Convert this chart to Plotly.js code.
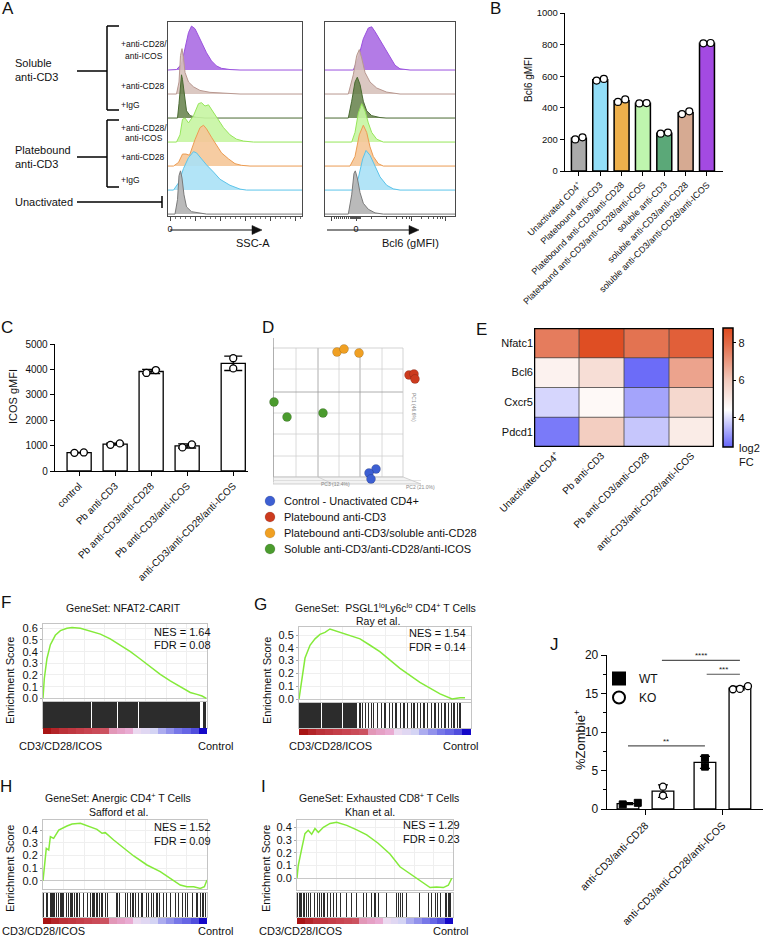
<!DOCTYPE html>
<html><head><meta charset="utf-8">
<script src="https://cdn.plot.ly/plotly-3.0.1.min.js"></script>
<style>html,body{margin:0;padding:0;background:#fff;}#fig{width:763px;height:938px;}</style>
</head><body><div id="fig"></div>
<script>
// ================= DATA =================
// Panel A – flow histograms, pairs of [channel value, normalized count]
const histRows = ['Soluble anti-CD3 +anti-CD28/anti-ICOS','Soluble anti-CD3 +anti-CD28','Soluble anti-CD3 +IgG',
  'Platebound anti-CD3 +anti-CD28/anti-ICOS','Platebound anti-CD3 +anti-CD28','Platebound anti-CD3 +IgG','Unactivated'];
// SSC-A (x1000)
const sscSolCD28ICOS = [[-4,0],[0,0],[13,0.02],[23,0.24],[30,0.86],[37,1.56],[43,1.83],[50,1.72],[57,1.42],[63,1.14],[73,0.72],[83,0.38],[93,0.17],[103,0.07],[120,0.02],[140,0],[264,0]];
const sscSolCD28 = [[-4,0],[13,0],[18,0.5],[21,1.6],[24,1.89],[27,1.5],[30,0.9],[37,0.5],[47,0.3],[60,0.15],[80,0.07],[113,0.03],[140,0],[264,0]];
const sscSolIgG = [[-4,0],[15,0],[18,0.6],[21,1.5],[23,1.8],[25,1.6],[29,0.8],[33,0.3],[40,0.1],[53,0.03],[70,0],[264,0]];
const sscPbCD28ICOS = [[-4,0],[13,0],[20,0.3],[25,0.95],[30,1.0],[37,0.8],[47,1.1],[57,1.6],[63,1.64],[70,1.5],[77,1.55],[83,1.35],[93,1.05],[107,0.6],[120,0.3],[133,0.12],[147,0.04],[167,0],[264,0]];
const sscPbCD28 = [[-4,0],[7,0],[17,0.15],[25,0.5],[32,0.5],[39,0.45],[50,1.1],[60,1.6],[67,1.7],[73,1.55],[83,1.2],[93,0.85],[103,0.55],[117,0.3],[130,0.1],[143,0.03],[160,0],[264,0]];
const sscPbIgG = [[-4,0],[7,0],[17,0.3],[27,0.9],[37,1.35],[47,1.6],[53,1.55],[63,1.3],[73,1.05],[87,0.75],[100,0.45],[120,0.2],[140,0.04],[153,0],[264,0]];
const sscUnact = [[-4,0],[10,0],[15,0.6],[18,1.6],[21,1.8],[24,1.5],[28,0.8],[33,0.3],[43,0.1],[60,0.03],[73,0],[264,0]];
// Bcl6 (gMFI)
const bclSolCD28ICOS = [[-310,0],[-27,0],[23,0.5],[73,1.3],[123,1.75],[157,1.8],[190,1.6],[240,1.25],[290,0.85],[340,0.5],[390,0.2],[440,0.05],[540,0],[990,0]];
const bclSolCD28 = [[-310,0],[-77,0],[-27,0.8],[7,1.6],[33,1.85],[57,1.5],[90,0.9],[140,0.5],[207,0.25],[307,0.08],[440,0],[990,0]];
const bclSolIgG = [[-310,0],[-77,0],[-43,0.7],[-10,1.5],[13,1.7],[40,1.4],[73,0.7],[107,0.3],[157,0.1],[240,0.02],[300,0],[990,0]];
const bclPbCD28ICOS = [[-310,0],[-43,0],[-10,0.4],[23,1.2],[57,1.6],[90,1.3],[123,0.8],[157,0.4],[207,0.12],[273,0],[990,0]];
const bclPbCD28 = [[-310,0],[-60,0],[-10,0.4],[33,1.3],[73,1.7],[107,1.4],[140,0.8],[173,0.4],[223,0.1],[273,0],[990,0]];
const bclPbIgG = [[-310,0],[-27,0],[23,0.5],[67,1.3],[100,1.65],[140,1.45],[190,1.0],[240,0.55],[307,0.2],[373,0.05],[440,0],[990,0]];
const bclUnact = [[-310,0],[-77,0],[-43,0.8],[-20,1.7],[-7,1.8],[13,1.5],[40,0.9],[73,0.45],[123,0.2],[190,0.05],[273,0],[990,0]];

// Panel B – Bcl6 gMFI
const bLabels = ['Unactivated CD4<sup>+</sup>','Platebound anti-CD3','Platebound anti-CD3/anti-CD28','Platebound anti-CD3/anti-CD28/anti-ICOS','soluble anti-CD3','soluble anti-CD3/anti-CD28','soluble anti-CD3/anti-CD28/anti-ICOS'];
const bRep1 = [200,572,437,428,236,360,808];
const bRep2 = [213,583,453,430,243,378,810];

// Panel C – ICOS gMFI
const cLabels = ['control','Pb anti-CD3','Pb anti-CD3/anti-CD28','Pb anti-CD3/anti-ICOS','anti-CD3/anti-CD28/anti-ICOS'];
const cRep1 = [715,1030,3860,930,4040];
const cRep2 = [730,1085,3975,1045,4440];

// Panel D – PCA (projected scores)
const pcaGroups = ['Control - Unactivated CD4+','Platebound anti-CD3','Platebound anti-CD3/soluble anti-CD28','Soluble anti-CD3/anti-CD28/anti-ICOS'];
const pcaCtrlH = [103,96,98],  pcaCtrlV = [13,9,3];
const pcaPbH = [136,141,142],  pcaPbV = [107,108,103];
const pcaPbSolH = [64,71,86],  pcaPbSolV = [130,133,129];
const pcaSolH = [1,14,50],     pcaSolV = [80,65,69];

// Panel E – heatmap log2 FC
const eGenes = ['Nfatc1','Bcl6','Cxcr5','Pdcd1'];
const eConds = ['Unactivated CD4<sup>+</sup>','Pb anti-CD3','Pb anti-CD3/anti-CD28','anti-CD3/anti-CD28/anti-ICOS'];
const eNfatc1 = [7.6,8.7,7.8,8.25];
const eBcl6 = [4.8,5.4,2.55,6.8];
const eCxcr5 = [3.9,4.6,3.26,5.6];
const ePdcd1 = [2.73,5.9,3.7,5.0];

// Panels F–I – GSEA (rank position %, enrichment score)
const gseaRankMetric = [1.0,0.9,0.82,0.78,0.74,0.7,0.66,0.62,0.25,0.2,0.15,-0.05,-0.12,-0.2,-0.35,-0.45,-0.55,-0.62,-0.72,-1.0];
const esF_rank = [0,0.8,2.4,4.5,7.5,10.6,14.6,17.7,22.8,28.9,35,41,47.2,53.3,59.3,65.4,71.5,77.6,83.7,89.8,93.9,97,99.6];
const esF = [0,0.17,0.34,0.46,0.54,0.58,0.60,0.606,0.60,0.577,0.55,0.51,0.457,0.40,0.337,0.27,0.206,0.15,0.097,0.05,0.034,0.02,0.0];
const hitsF = [[0,29.5],[29.9,45.3],[45.7,58.1],[58.5,75.4],[75.8,87.6],[88,95.8],[97.6,99.3]];
const esG_rank = [0,1.6,3.5,6.4,9.3,12.2,15.1,18,21.9,27.7,35.5,41.3,47,58.7,70.3,82,89,93.6,96.5];
const esG = [0,0.16,0.32,0.42,0.47,0.505,0.52,0.547,0.53,0.51,0.47,0.42,0.37,0.24,0.13,0.04,0,0.01,0.01];
const hitsG = [[0,12.8],[13.3,17.8],[18.3,24.8],[25.3,34],35.5,37,38.5,40.5,42,43.5,45.5,48.1,50,52.5,54.5,56.4,59.1,61,63,65.5,66.9,68.8,70.7,72.7,74.6,77.1,79.1,81,83,84.9,86.8,88.8,90.1,92,93.6];
const esH_rank = [0,0.8,2,3.5,4.5,6.5,9.6,14.6,17.7,22.8,27.8,32.9,36,38,43.1,49.2,55.3,63.4,71.5,77.6,83.7,87.8,91.9,95.9,98.4,100];
const esH = [0,0.11,0.255,0.242,0.347,0.334,0.40,0.432,0.447,0.453,0.432,0.405,0.374,0.379,0.321,0.255,0.195,0.124,0.071,0.018,-0.034,-0.047,-0.047,-0.061,-0.047,0.005];
const hitsH = [0.4,2,3,4.5,5.5,6.5,7.1,8.1,9.6,10.6,11.6,12.6,14.2,15.7,16.7,17.7,19.1,20.7,22.2,24.8,27.2,28.9,30.5,31.5,32.9,34.6,36,38,39.4,45.1,46.7,50.2,51.6,53.3,54.9,56.3,58.3,60.4,63,64.4,65.9,67.5,69.5,71.1,73.6,75.2,77.6,80.7,82.7,84.8,86.8,88.2,90.9,93.9,95.9,97.6,99];
const esI_rank = [0,0.8,3,5.1,7.2,9.4,11.5,13.7,16.9,21.2,25.4,31.9,38.3,44.7,52,59.6,66,72.4,78.8,85.3,89.5,93.8,97,99.2];
const esI = [0,0.10,0.23,0.35,0.376,0.345,0.39,0.36,0.40,0.43,0.44,0.415,0.38,0.34,0.275,0.19,0.09,0.037,-0.016,-0.073,-0.068,-0.073,-0.055,0];
const hitsI = [0.4,1.9,3,4.5,6.2,7.3,8.8,11.5,13,14.7,15.8,16.9,17.9,19.4,21.2,23.3,25.4,27.6,31.9,35.1,38.3,42.5,44.7,47.9,50,52.1,57.5,63.9,64.9,66.5,67.8,70.3,78.8,84.2,86.3,88.5,89.9,91.7,94.9,96,97,98.1];

// Panel J – %Zombie+
const jGroups = ['anti-CD3/anti-CD28','anti-CD3/anti-CD28/anti-ICOS'];
const jWT_g1 = [0.6,0.8];
const jKO_g1 = [1.75,2.9];
const jWT_g2 = [5.5,6.6];
const jKO_g2 = [15.55,15.6,15.95];

// ================= HELPERS / STYLE =================
const FONT = '"Liberation Sans", Arial, sans-serif';
const W = 763, H = 938;
const PX = v => v / W, PY = v => 1 - v / H;
const XD = (a, b) => [a / W, b / W], YD = (t, b) => [1 - b / H, 1 - t / H];
const traces = [], annotations = [], shapes = [];
const layout = {width: W, height: H, margin: {l:0, r:0, t:0, b:0}, paper_bgcolor: '#fff', plot_bgcolor: 'rgba(0,0,0,0)',
  font: {family: FONT, size: 11, color: '#111'}, showlegend: true, annotations, shapes, bargap: 0};
const mean = a => a.reduce((s, v) => s + v, 0) / a.length;
const sd = a => { const m = mean(a); return Math.sqrt(a.reduce((s, v) => s + (v - m) * (v - m), 0) / (a.length - 1)); };
function baseAxis(o) { return Object.assign({showgrid:false, zeroline:false, showline:false, ticks:'', showticklabels:false, fixedrange:true, tickfont:{family:FONT, size:10, color:'#111'}}, o); }
function setAxes(n, xo, yo) {
  const s = n === 1 ? '' : String(n);
  layout['xaxis' + s] = baseAxis(Object.assign({anchor: 'y' + s}, xo));
  layout['yaxis' + s] = baseAxis(Object.assign({anchor: 'x' + s}, yo));
}
const xr = n => n === 1 ? 'x' : 'x' + n, yr = n => n === 1 ? 'y' : 'y' + n;
function T(text, x, y, o = {}) {
  annotations.push({text, x: PX(x), y: PY(y), xref:'paper', yref:'paper', showarrow:false, xanchor:o.xa||'center', yanchor:o.ya||'middle',
    textangle:o.ang||0, align:o.align||'center', font:{family:FONT, size:o.s||11, color:o.c||'#111'}});
}
function L(x0, y0, x1, y1, o = {}) {
  shapes.push({type:'line', xref:'paper', yref:'paper', x0:PX(x0), y0:PY(y0), x1:PX(x1), y1:PY(y1), line:{color:o.c||'#000', width:o.w||1.5}});
}
function arrowRight(x0, x1, y) {
  L(x0, y, x1 - 8, y, {w:1.2, c:'#111'});
  shapes.push({type:'path', xref:'paper', yref:'paper', fillcolor:'#111', line:{color:'#111', width:0.5},
    path:`M${PX(x1)},${PY(y)} L${PX(x1 - 10)},${PY(y - 4.5)} L${PX(x1 - 10)},${PY(y + 4.5)} Z`});
}

// ================= PANEL A =================
const sscRows = [sscSolCD28ICOS, sscSolCD28, sscSolIgG, sscPbCD28ICOS, sscPbCD28, sscPbIgG, sscUnact];
const bclRows = [bclSolCD28ICOS, bclSolCD28, bclSolIgG, bclPbCD28ICOS, bclPbCD28, bclPbIgG, bclUnact];
const histFill = ['rgba(172,112,228,0.92)','rgba(214,192,186,0.88)','rgba(86,116,56,0.78)','rgba(198,245,162,0.9)','rgba(245,198,152,0.9)','rgba(170,225,246,0.9)','rgba(180,180,180,0.92)'];
const histLine = ['#9a52de','#b89890','#4a6a32','#96e65a','#ec9c52','#5cc4ea','#7a7a7a'];
setAxes(1, {domain:XD(168,302), range:[-4,264], showline:true, mirror:true, linecolor:'#4a4a4a', linewidth:1,
    ticks:'outside', ticklen:4, tickcolor:'#4a4a4a', tickvals:[0], ticktext:['0'],
    showticklabels:true, tickfont:{family:FONT, size:9, color:'#111'},
    minor:{ticks:'outside', ticklen:2, tickmode:'linear', tick0:0, dtick:10, tickcolor:'#777'}},
  {domain:YD(22,216), range:[-0.08,8.0], showline:true, mirror:true, linecolor:'#4a4a4a', linewidth:1});
setAxes(2, {domain:XD(325,455), range:[-310,990], showline:true, mirror:true, linecolor:'#4a4a4a', linewidth:1,
    ticks:'outside', ticklen:4, tickcolor:'#4a4a4a', tickvals:[0], ticktext:['0'],
    showticklabels:true, tickfont:{family:FONT, size:9, color:'#111'},
    minor:{ticks:'outside', ticklen:2, tickmode:'array', tickcolor:'#555',
      tickvals:[-220,-200,-180,-160,-140,-120,-100,-80,-60,-45,-35,-25,-15,-8,8,15,25,35,45,150,300,400,460,500,530,650,720,770,810,840,865]}},
  {domain:YD(22,216), range:[-0.08,8.0], showline:true, mirror:true, linecolor:'#4a4a4a', linewidth:1});
// longer (major) ticks without labels on overlay axes
layout.xaxis20 = baseAxis({overlaying:'x', anchor:'y', range:[-4,264], ticks:'outside', ticklen:4, tickcolor:'#4a4a4a', tickvals:[50,100,150,200,250]});
layout.xaxis21 = baseAxis({overlaying:'x2', anchor:'y2', range:[-310,990], ticks:'outside', ticklen:4, tickcolor:'#4a4a4a', tickvals:[-243,557,890]});
sscRows.forEach((d, i) => {
  const off = 6 - i;
  [[d, 1], [bclRows[i], 2]].forEach(([rows, n]) => {
    traces.push({type:'scatter', mode:'lines', name: histRows[i], x: rows.map(p => p[0]), y: rows.map(p => p[1] + off),
      fill:'toself', fillcolor: histFill[i], line:{color: histLine[i], width:1}, xaxis: xr(n), yaxis: yr(n), showlegend:false, hoverinfo:'skip'});
  });
});
// invisible anchors so the overlay tick axes are drawn
traces.push({type:'scatter', mode:'markers', x:[-4], y:[-0.08], xaxis:'x20', yaxis:'y', marker:{opacity:0}, showlegend:false, hoverinfo:'skip'});
traces.push({type:'scatter', mode:'markers', x:[-310], y:[-0.08], xaxis:'x21', yaxis:'y2', marker:{opacity:0}, showlegend:false, hoverinfo:'skip'});
T('A', 8, 9, {s:17});
T('Soluble', 13, 63, {xa:'left'}); T('anti-CD3', 13, 77, {xa:'left'});
T('Platebound', 13, 150, {xa:'left'}); T('anti-CD3', 13, 164, {xa:'left'});
T('Unactivated', 13, 202, {xa:'left'});
T('+anti-CD28/', 119, 44, {xa:'left', s:8.5}); T('anti-ICOS', 123, 56, {xa:'left', s:8.5});
T('+anti-CD28', 119, 86, {xa:'left', s:8.5}); T('+IgG', 119, 105, {xa:'left', s:8.5});
T('+anti-CD28/', 119, 128, {xa:'left', s:8.5}); T('anti-ICOS', 123, 138, {xa:'left', s:8.5});
T('+anti-CD28', 119, 157, {xa:'left', s:8.5}); T('+IgG', 119, 180, {xa:'left', s:8.5});
L(107,26,107,110); L(107,26,119,26); L(107,110,119,110); L(77,71,107,71);
L(107,120,107,187); L(107,120,119,120); L(107,187,119,187); L(77,157,107,157);
L(77,202,162,202); L(162,196,162,208);
arrowRight(170, 262, 230); T('SSC-A', 253, 243, {s:11});
arrowRight(327, 419, 230); T('Bcl6 (gMFI)', 410, 243, {s:11});

// ================= PANEL B =================
const bColors = ['#aaaaaa','#92def8','#edb04c','#bff5ae','#5ba878','#d6aa92','#a34ae2'];
setAxes(3, {domain:XD(565,723), range:[-0.65,6.75], showline:true, linecolor:'#000', linewidth:1.3, ticks:'outside', ticklen:4,
    tickcolor:'#000', tickvals:bLabels.map((_, i) => i), ticktext:bLabels, tickangle:-45, showticklabels:true, tickfont:{family:FONT, size:9, color:'#111'}},
  {domain:YD(13,171), range:[0,1000], dtick:200, showline:true, linecolor:'#000', linewidth:1.3, ticks:'outside', ticklen:4, tickcolor:'#000',
    showticklabels:true, tickfont:{family:FONT, size:9.5, color:'#111'}});
traces.push({type:'bar', x:bLabels.map((_, i) => i), y:bRep1.map((v, i) => (v + bRep2[i]) / 2), width:0.7,
  marker:{color:bColors, line:{color:'#000', width:1.5}}, xaxis:'x3', yaxis:'y3', showlegend:false, hoverinfo:'skip'});
traces.push({type:'scatter', mode:'markers', x:bLabels.flatMap((_, i) => [i - 0.17, i + 0.17]), y:bRep1.flatMap((v, i) => [v, bRep2[i]]),
  marker:{symbol:'circle', size:7, color:'#fff', line:{color:'#000', width:1.2}}, xaxis:'x3', yaxis:'y3', showlegend:false, cliponaxis:false, hoverinfo:'skip'});
T('B', 495, 9, {s:17});
T('Bcl6 gMFI', 528, 80, {ang:-90, s:10});

// ================= PANEL C =================
const cSlots = [0,1,2,3,4.28];
setAxes(4, {domain:XD(55,248), range:[-0.67,4.69], showline:true, linecolor:'#000', linewidth:1.3, ticks:'outside', ticklen:4,
    tickcolor:'#000', tickvals:cSlots, ticktext:cLabels, tickangle:-45, showticklabels:true, tickfont:{family:FONT, size:10, color:'#111'}},
  {domain:YD(344,471), range:[0,5000], dtick:1000, showline:true, linecolor:'#000', linewidth:1.3, ticks:'outside', ticklen:4, tickcolor:'#000',
    showticklabels:true, tickfont:{family:FONT, size:10, color:'#111'}});
traces.push({type:'bar', x:cSlots, y:cRep1.map((v, i) => mean([v, cRep2[i]])), width:0.67,
  error_y:{type:'data', array:cRep1.map((v, i) => sd([v, cRep2[i]])), visible:true, color:'#000', thickness:1.3, width:9},
  marker:{color:'#fff', line:{color:'#000', width:1.3}}, xaxis:'x4', yaxis:'y4', showlegend:false, hoverinfo:'skip'});
traces.push({type:'scatter', mode:'markers', x:cSlots.flatMap((s, i) => i === 4 ? [s, s] : [s - 0.13, s + 0.13]),
  y:cRep1.flatMap((v, i) => [v, cRep2[i]]),
  marker:{symbol:'circle', size:7, color:'#fff', line:{color:'#000', width:1.3}}, xaxis:'x4', yaxis:'y4', showlegend:false, cliponaxis:false, hoverinfo:'skip'});
T('C', 7, 328, {s:17});
T('ICOS gMFI', 13, 397, {ang:-90, s:11});

// ================= PANEL D =================
setAxes(5, {domain:XD(273,423), range:[0,150]}, {domain:YD(338,486), range:[-4,144]});
const gridV = [23,45,66,87,109], gridH = [26,48,69,90,113];
gridV.forEach(v => shapes.push({type:'line', xref:'x5', yref:'y5', x0:v, x1:v, y0:5, y1:134, layer:'below', line:{color:(v===45||v===87)?'#9a9a9a':'#d0d0d0', width:0.8}}));
gridH.forEach(v => shapes.push({type:'line', xref:'x5', yref:'y5', x0:0, x1:130, y0:v, y1:v, layer:'below', line:{color:v===90?'#9a9a9a':'#d0d0d0', width:0.8}}));
shapes.push({type:'rect', xref:'x5', yref:'y5', x0:0, x1:130, y0:5, y1:134, layer:'below', line:{color:'#c8c8c8', width:0.8}});
shapes.push({type:'line', xref:'x5', yref:'y5', x0:0, x1:0, y0:0, y1:144, layer:'below', line:{color:'#777', width:1}});
shapes.push({type:'path', xref:'x5', yref:'y5', path:'M0,5 L130,5 L148,-2 L0,-2 Z', layer:'below', fillcolor:'rgba(235,235,235,0.6)', line:{color:'#bdbdbd', width:0.7}});
shapes.push({type:'line', xref:'x5', yref:'y5', x0:0, x1:148, y0:1.5, y1:1.5, layer:'below', line:{color:'#d0d0d0', width:0.6}});
shapes.push({type:'line', xref:'x5', yref:'y5', x0:45, x1:60, y0:5, y1:-2, layer:'below', line:{color:'#bdbdbd', width:0.6}});
const pcaColors = ['#3d5fd2','#cc3b1e','#f0a023','#4b9b2e'];
[[pcaCtrlH, pcaCtrlV],[pcaPbH, pcaPbV],[pcaPbSolH, pcaPbSolV],[pcaSolH, pcaSolV]].forEach(([h, v], i) => {
  traces.push({type:'scatter', mode:'markers', name:pcaGroups[i], x:h, y:v, xaxis:'x5', yaxis:'y5', showlegend:false,
    marker:{size:9, color:pcaColors[i], line:{color:'rgba(0,0,0,0.25)', width:0.6}}, cliponaxis:false, hoverinfo:'skip'});
  // legend key (symbol + label)
  const ly = 501 + 16 * i;
  shapes.push({type:'circle', xref:'paper', yref:'paper', x0:PX(265), x1:PX(275), y0:PY(ly + 5), y1:PY(ly - 5),
    fillcolor:pcaColors[i], line:{color:'rgba(0,0,0,0.2)', width:0.6}});
  T(pcaGroups[i], 282, ly, {xa:'left', s:11});
});
T('D', 268, 328, {s:17});
T('PC3 (12.4%)', 335, 484, {s:5, c:'#888'});
T('PC2 (21.0%)', 420, 487, {s:5, c:'#888'});
T('PC1 (46.6%)', 414, 407, {s:5, c:'#888', ang:90});

// ================= PANEL E =================
setAxes(6, {domain:XD(534,714), range:[-0.5,3.5], tickvals:eConds.map((_, i) => i), ticktext:eConds, tickangle:-45, showticklabels:true,
    tickfont:{family:FONT, size:10, color:'#111'}},
  {domain:YD(328,447), range:[3.5,-0.5], tickvals:eGenes.map((_, i) => i), ticktext:eGenes, showticklabels:true,
    tickfont:{family:FONT, size:11, color:'#111'}});
traces.push({type:'heatmap', z:[eNfatc1, eBcl6, eCxcr5, ePdcd1], x:eConds.map((_, i) => i), y:eGenes.map((_, i) => i),
  zmin:2.45, zmax:8.8, xaxis:'x6', yaxis:'y6', hoverinfo:'skip',
  colorscale:[[0,'#6464f8'],[0.31,'#ffffff'],[0.56,'#f2cabd'],[0.87,'#e26a47'],[1,'#df4a1e']],
  colorbar:{x:PX(723), xanchor:'left', y:PY(447), yanchor:'bottom', len:119/H, lenmode:'fraction', thickness:10, thicknessmode:'pixels',
    xpad:0, ypad:0, outlinecolor:'#000', outlinewidth:1.5, tickvals:[4,6,8], ticks:'outside', ticklen:3, tickcolor:'#000',
    tickfont:{family:FONT, size:11, color:'#111'}}});
[0.5,1.5,2.5].forEach(v => {
  shapes.push({type:'line', xref:'x6', yref:'y6', x0:v, x1:v, y0:-0.5, y1:3.5, line:{color:'#444', width:0.8}});
  shapes.push({type:'line', xref:'x6', yref:'y6', x0:-0.5, x1:3.5, y0:v, y1:v, line:{color:'#444', width:0.8}});
});
shapes.push({type:'rect', xref:'x6', yref:'y6', x0:-0.5, x1:3.5, y0:-0.5, y1:3.5, line:{color:'#000', width:2.5}});
T('E', 481, 329, {s:17});
T('log2<br>FC', 737, 455, {xa:'left', align:'left', s:11});

// ================= PANELS F–I (GSEA) =================
const gseaScale = [[0,'#1408c8'],[0.2,'#6a6ae6'],[0.4,'#d4d4f4'],[0.5,'#f2dcee'],[0.58,'#e8a8d0'],[0.7,'#d87a8c'],[0.85,'#c84450'],[1,'#a81414']];
function gsea(n, g, rank, es, hits) {
  setAxes(n, {domain:XD(g.x[0], g.x[1]), range:[0,100], showgrid:true, gridcolor:'#efefef', dtick:12.5, showline:true, mirror:true, linecolor:'#c4c4c4', linewidth:1},
    {domain:YD(g.es[0], g.es[1]), range:g.esR, dtick:0.1, tick0:0, tickformat:'.1f', showticklabels:true, ticks:'outside', ticklen:2, tickcolor:'#aaa',
     showgrid:true, gridcolor:'#efefef', zeroline:true, zerolinecolor:'#c8c8c8', zerolinewidth:1, showline:true, mirror:true, linecolor:'#c4c4c4', linewidth:1,
     tickfont:{family:FONT, size:11, color:'#111'}});
  setAxes(n + 1, {domain:XD(g.x[0], g.x[1]), range:[0,100], showline:true, mirror:true, linecolor:'#c4c4c4', linewidth:1},
    {domain:YD(g.hits[0], g.hits[1]), range:[0,1], showline:true, mirror:true, linecolor:'#c4c4c4', linewidth:1});
  setAxes(n + 2, {domain:XD(g.x[0], g.x[1]), range:[0,100]}, {domain:YD(g.grad[0], g.grad[1]), range:[-0.5,0.5]});
  traces.push({type:'scatter', mode:'lines', x:rank, y:es, line:{color:'#84ea3a', width:1.5}, xaxis:xr(n), yaxis:yr(n), showlegend:false, hoverinfo:'skip'});
  const hx = hits.map(h => Array.isArray(h) ? (h[0] + h[1]) / 2 : h);
  const hw = hits.map(h => Array.isArray(h) ? Math.max(h[1] - h[0], 0.7) : 0.7);
  traces.push({type:'bar', x:hx, y:hits.map(() => 1), width:hw, base:0, marker:{color:'#1a1a1a', opacity:0.92, line:{width:0}},
    xaxis:xr(n + 1), yaxis:yr(n + 1), showlegend:false, hoverinfo:'skip'});
  traces.push({type:'heatmap', z:[gseaRankMetric], x0:2.5, dx:5, y0:0, zmin:-1, zmax:1, colorscale:gseaScale, showscale:false,
    xaxis:xr(n + 2), yaxis:yr(n + 2), hoverinfo:'skip'});
}
gsea(8,  {x:[43,207],  es:[624,701], esR:[-0.023,0.637], hits:[702,728], grad:[728,734]}, esF_rank, esF, hitsF);
gsea(11, {x:[299,471], es:[627,702], esR:[-0.023,0.5625], hits:[703,728], grad:[729,735]}, esG_rank, esG, hitsG);
gsea(14, {x:[43,207],  es:[820,889], esR:[-0.0655,0.479], hits:[893,917], grad:[918,924]}, esH_rank, esH, hitsH);
gsea(17, {x:[297,453], es:[820,890], esR:[-0.092,0.457], hits:[893,917], grad:[918,924]}, esI_rank, esI, hitsI);

T('F', 6, 602, {s:17}); T('G', 260, 604, {s:17}); T('H', 6, 786, {s:17}); T('I', 263, 786, {s:17});
T('GeneSet: NFAT2-CARIT', 124, 608, {s:10.5});
T('GeneSet:  PSGL1<sup>lo</sup>Ly6c<sup>lo</sup> CD4<sup>+</sup> T Cells', 385, 607, {s:10.5});
T('Ray et al.', 378, 621, {s:10.5});
T('GeneSet: Anergic CD4<sup>+</sup> T Cells', 118, 797, {s:10.5});
T('Safford et al.', 118, 812, {s:10.5});
T('GeneSet: Exhausted CD8<sup>+</sup> T Cells', 379, 797, {s:10.5});
T('Khan et al.', 370, 812, {s:10.5});
[[213,632,645,'1.64','0.08'],[468,633,647,'1.54','0.14'],[213,827,841,'1.52','0.09'],[462,825,839,'1.29','0.23']].forEach(([x, y1, y2, nes, fdr]) => {
  T('NES = ' + nes, x, y1, {xa:'right', s:11}); T('FDR = ' + fdr, x, y2, {xa:'right', s:11});
});
T('Enrichment Score', 10, 681, {ang:-90, s:11}); T('Enrichment Score', 267, 681, {ang:-90, s:11});
T('Enrichment Score', 10, 869, {ang:-90, s:11}); T('Enrichment Score', 266, 869, {ang:-90, s:11});
T('CD3/CD28/ICOS', 17, 746, {xa:'left', s:11}); T('Control', 235, 746, {xa:'right', s:11});
T('CD3/CD28/ICOS', 287, 746, {xa:'left', s:11}); T('Control', 480, 746, {xa:'right', s:11});
T('CD3/CD28/ICOS', 0, 931, {xa:'left', s:11}); T('Control', 235, 931, {xa:'right', s:11});
T('CD3/CD28/ICOS', 257, 931, {xa:'left', s:11}); T('Control', 470, 931, {xa:'right', s:11});

// ================= PANEL J =================
const jSlots = [0,1,2.2,3.2];
const jJitWT = [[-0.15,0.28],[0,0]], jJitKO = [[0,0],[-0.2,0,0.23]];
setAxes(7, {domain:XD(607,763), range:[-0.6,3.86], showline:true, linecolor:'#000', linewidth:1.3, ticks:'outside', ticklen:5, tickcolor:'#000',
    tickvals:[0.5,2.7], ticktext:jGroups, tickangle:-45, showticklabels:true, tickfont:{family:FONT, size:10.5, color:'#111'}},
  {domain:YD(655,809), range:[0,20], dtick:5, showline:true, linecolor:'#000', linewidth:1.3, ticks:'outside', ticklen:5, tickcolor:'#000',
    showticklabels:true, tickfont:{family:FONT, size:12, color:'#111'}, minor:{ticks:'outside', ticklen:3, tickmode:'linear', tick0:0, dtick:2.5, tickcolor:'#000'}});
const jSets = [jWT_g1, jKO_g1, jWT_g2, jKO_g2];
traces.push({type:'bar', x:jSlots, y:jSets.map(mean), width:0.62,
  error_y:{type:'data', array:jSets.map(sd), visible:true, color:'#000', thickness:1.2, width:5},
  marker:{color:'#fff', line:{color:'#000', width:1.3}}, xaxis:'x7', yaxis:'y7', showlegend:false, hoverinfo:'skip'});
traces.push({type:'scatter', mode:'markers', name:'WT', legend:'legend2',
  x:[...jWT_g1.map((_, i) => jSlots[0] + jJitWT[0][i]), ...jWT_g2.map((_, i) => jSlots[2] + jJitWT[1][i])], y:[...jWT_g1, ...jWT_g2],
  marker:{symbol:'square', size:7, color:'#000', line:{color:'#000', width:1}}, xaxis:'x7', yaxis:'y7', cliponaxis:false, hoverinfo:'skip'});
traces.push({type:'scatter', mode:'markers', name:'KO', legend:'legend2',
  x:[...jKO_g1.map((_, i) => jSlots[1] + jJitKO[0][i]), ...jKO_g2.map((_, i) => jSlots[3] + jJitKO[1][i])], y:[...jKO_g1, ...jKO_g2],
  marker:{symbol:'circle', size:7, color:'#fff', line:{color:'#000', width:1.3}}, xaxis:'x7', yaxis:'y7', cliponaxis:false, hoverinfo:'skip'});
layout.legend2 = {x:PX(599), y:PY(664), xanchor:'left', yanchor:'top', bgcolor:'rgba(0,0,0,0)', itemsizing:'constant',
  font:{family:FONT, size:12, color:'#111'}, tracegroupgap:0, itemclick:false, itemdoubleclick:false};
[[0,2.2,8.2,'**'],[0.97,3.2,19.3,'****'],[2.25,3.2,17.5,'***']].forEach(([a, b, y, s]) => {
  shapes.push({type:'line', xref:'x7', yref:'y7', x0:a, x1:b, y0:y, y1:y, line:{color:'#555', width:1.2}});
  annotations.push({text:s, xref:'x7', yref:'y7', x:(a + b) / 2, y:y, yanchor:'bottom', showarrow:false, yshift:-2, font:{family:FONT, size:8, color:'#222'}});
});
T('J', 554, 644, {s:17});
T('%Zombie<sup>+</sup>', 580, 740, {ang:-90, s:13});

Plotly.newPlot('fig', traces, layout, {staticPlot:true, displayModeBar:false});
</script></body></html>
